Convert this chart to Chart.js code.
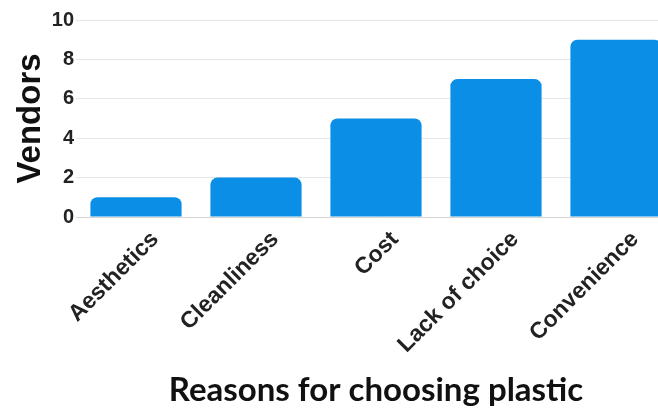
<!DOCTYPE html>
<html>
<head>
<meta charset="utf-8">
<script src="https://cdn.jsdelivr.net/npm/chart.js@4.4.1/dist/chart.umd.min.js"></script>
<style>
  html, body { margin: 0; padding: 0; background: #fff; overflow: hidden; }
  #wrap { width: 700px; height: 410px; }
</style>
</head>
<body>
<div id="wrap"><canvas id="plasticChart" width="700" height="410"></canvas></div>
<script>
const categories = ["Aesthetics", "Cleanliness", "Cost", "Lack of choice", "Convenience"];
const vendorCounts = [1, 2, 5, 7, 9];
const yTicks = [0, 2, 4, 6, 8, 10];

document.addEventListener("DOMContentLoaded", () => {
    const ctx = document.getElementById("plasticChart").getContext("2d");

    new Chart(ctx, {
        type: "bar",
        data: {
            labels: categories,
            datasets: [
                {
                    label: "Vendors",
                    data: vendorCounts,
                    backgroundColor: "#0b8ee6",
                    borderRadius: 7,
                    barPercentage: 0.76,
                    categoryPercentage: 1
                }
            ]
        },
        options: {
            responsive: false,
            animation: false,
            layout: { padding: { top: 20, right: 24, left: 0, bottom: 0 } },
            plugins: {
                legend: { display: false },
                tooltip: { enabled: false }
            },
            scales: {
                x: {
                    afterFit: (scale) => { scale.height = 193; },
                    grid: { display: false, drawTicks: false },
                    border: { color: "#d6d6d6" },
                    ticks: {
                        color: "#222",
                        font: { family: "Liberation Sans", size: 23, weight: "bold" },
                        maxRotation: 45,
                        minRotation: 45,
                        labelOffset: 19,
                        padding: 9
                    },
                    title: {
                        display: true,
                        text: "Reasons for choosing plastic",
                        color: "#111",
                        font: { family: "Lato", size: 33, weight: "bold" },
                        padding: { top: 0, bottom: 0 }
                    }
                },
                y: {
                    min: 0,
                    max: 10,
                    afterFit: (scale) => { scale.width = 76; },
                    afterBuildTicks: (scale) => {
                        scale.ticks = yTicks.map((v) => ({ value: v }));
                    },
                    grid: { color: "#e6e6e6", drawTicks: false },
                    border: { display: false },
                    ticks: {
                        color: "#222",
                        font: { family: "Liberation Sans", size: 20, weight: "bold" },
                        padding: 2
                    },
                    title: {
                        display: true,
                        text: "Vendors",
                        color: "#111",
                        font: { family: "Liberation Sans", size: 33, weight: "bold" },
                        padding: { top: 11, bottom: 0 }
                    }
                }
            }
        }
    });
});
</script>
</body>
</html>
